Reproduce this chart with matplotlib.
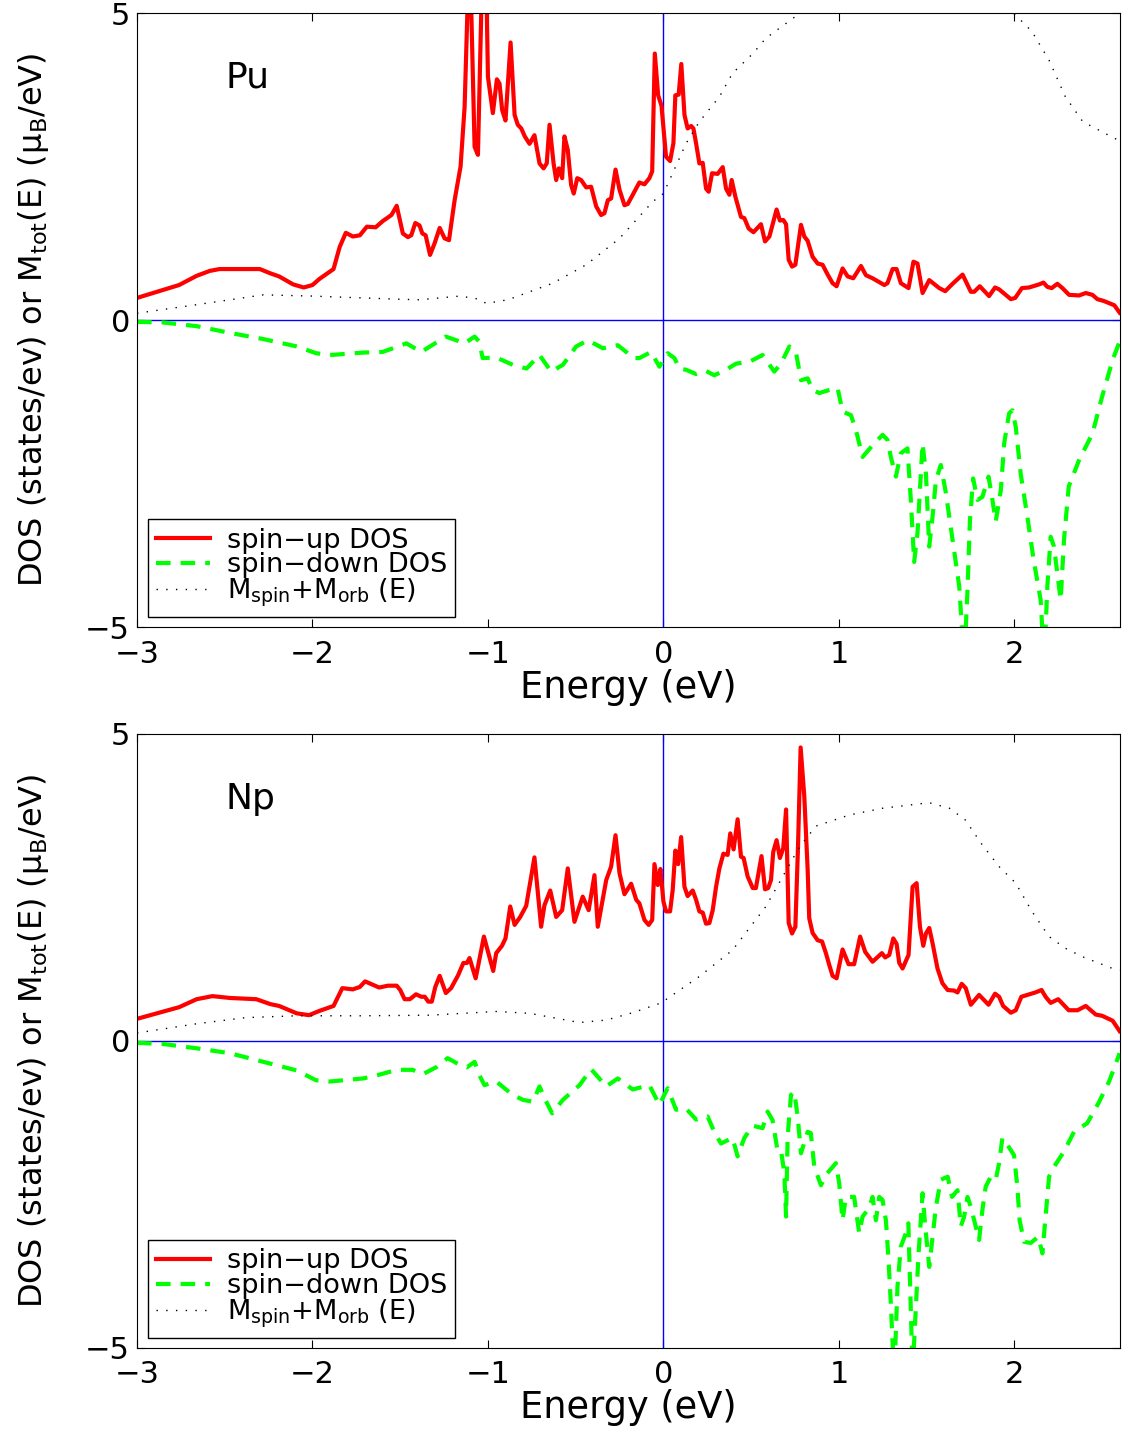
import numpy as np
import matplotlib
matplotlib.use("Agg")
import matplotlib.pyplot as plt

plt.rcParams['font.family'] = ['DejaVu Sans']
plt.rcParams['mathtext.fontset'] = 'dejavusans'
plt.rcParams['mathtext.default'] = 'regular'

# (energy eV, value)
pu_up = np.array([
    [-3.0, 0.36], [-2.76, 0.57], [-2.66, 0.72], [-2.585, 0.80], [-2.53, 0.83], [-2.30, 0.83],
    [-2.24, 0.76], [-2.19, 0.71], [-2.11, 0.58], [-2.05, 0.53], [-2.0, 0.57], [-1.96, 0.67],
    [-1.88, 0.83], [-1.845, 1.19], [-1.81, 1.42], [-1.77, 1.36], [-1.73, 1.38], [-1.69, 1.52],
    [-1.64, 1.51], [-1.60, 1.61], [-1.55, 1.71], [-1.52, 1.86], [-1.485, 1.41], [-1.456, 1.35],
    [-1.437, 1.38], [-1.414, 1.58], [-1.39, 1.54], [-1.374, 1.41], [-1.355, 1.38], [-1.33, 1.06],
    [-1.304, 1.25], [-1.275, 1.50], [-1.247, 1.33], [-1.222, 1.30], [-1.19, 1.95], [-1.156, 2.50],
    [-1.133, 3.47], [-1.105, 6.2], [-1.076, 2.82], [-1.057, 2.69], [-1.03, 6.0], [-1.01, 5.6],
    [-1.0, 3.96], [-0.972, 3.37], [-0.949, 3.92], [-0.934, 3.85], [-0.919, 3.42], [-0.90, 3.25],
    [-0.871, 4.52], [-0.848, 3.34], [-0.83, 3.18], [-0.81, 3.12], [-0.79, 2.99], [-0.763, 2.87],
    [-0.735, 3.01], [-0.706, 2.55], [-0.683, 2.47], [-0.665, 2.55], [-0.649, 3.18], [-0.626, 2.55],
    [-0.611, 2.28], [-0.596, 2.47], [-0.577, 2.31], [-0.564, 2.99], [-0.545, 2.77], [-0.526, 2.20],
    [-0.511, 2.06], [-0.491, 2.31], [-0.469, 2.28], [-0.44, 2.16], [-0.412, 2.17], [-0.383, 1.85],
    [-0.355, 1.71], [-0.336, 1.74], [-0.317, 1.95], [-0.298, 1.98], [-0.273, 2.45], [-0.25, 2.12],
    [-0.222, 1.87], [-0.203, 1.89], [-0.175, 2.04], [-0.137, 2.24], [-0.108, 2.21], [-0.08, 2.31],
    [-0.064, 2.42], [-0.049, 4.34], [-0.03, 3.66], [-0.011, 3.49], [0.015, 2.66], [0.038, 2.59],
    [0.057, 2.88], [0.068, 3.66], [0.087, 3.67], [0.102, 4.17], [0.12, 3.34], [0.138, 3.12],
    [0.158, 3.16], [0.171, 3.12], [0.186, 2.88], [0.205, 2.55], [0.224, 2.56], [0.243, 2.14],
    [0.258, 2.09], [0.277, 2.39], [0.309, 2.38], [0.338, 2.49], [0.357, 2.14], [0.376, 2.04],
    [0.389, 2.28], [0.41, 2.01], [0.442, 1.68], [0.461, 1.66], [0.486, 1.49], [0.513, 1.43],
    [0.556, 1.56], [0.579, 1.28], [0.604, 1.36], [0.645, 1.80], [0.664, 1.62], [0.683, 1.63],
    [0.699, 1.56], [0.714, 0.98], [0.733, 0.87], [0.752, 0.90], [0.784, 1.55], [0.803, 1.36],
    [0.822, 1.29], [0.85, 1.03], [0.879, 0.92], [0.907, 0.90], [0.936, 0.74], [0.964, 0.60],
    [0.987, 0.55], [1.021, 0.84], [1.05, 0.71], [1.082, 0.68], [1.126, 0.88], [1.154, 0.73],
    [1.192, 0.68], [1.259, 0.57], [1.277, 0.60], [1.306, 0.83], [1.329, 0.83], [1.353, 0.60],
    [1.397, 0.52], [1.425, 0.95], [1.448, 0.92], [1.477, 0.44], [1.515, 0.65], [1.572, 0.52],
    [1.606, 0.47], [1.648, 0.59], [1.705, 0.74], [1.752, 0.46], [1.771, 0.46], [1.803, 0.55],
    [1.856, 0.39], [1.89, 0.53], [1.913, 0.50], [1.98, 0.34], [2.005, 0.36], [2.043, 0.52],
    [2.084, 0.53], [2.141, 0.58], [2.166, 0.61], [2.188, 0.54], [2.213, 0.52], [2.245, 0.59],
    [2.274, 0.52], [2.312, 0.41], [2.369, 0.40], [2.407, 0.44], [2.445, 0.41], [2.473, 0.34],
    [2.51, 0.31], [2.57, 0.24], [2.60, 0.12],
])

pu_down = np.array([
    [-3.0, -0.03], [-2.85, -0.04], [-2.66, -0.10], [-2.47, -0.21], [-2.28, -0.31], [-2.09, -0.43],
    [-1.98, -0.54], [-1.90, -0.57], [-1.71, -0.53], [-1.60, -0.52], [-1.465, -0.38], [-1.38, -0.52],
    [-1.33, -0.43], [-1.24, -0.27], [-1.16, -0.35], [-1.133, -0.38], [-1.076, -0.27], [-1.05, -0.35],
    [-1.03, -0.62], [-0.953, -0.61], [-0.858, -0.73], [-0.78, -0.79], [-0.706, -0.57], [-0.64, -0.84],
    [-0.573, -0.73], [-0.497, -0.43], [-0.43, -0.33], [-0.345, -0.46], [-0.26, -0.41], [-0.212, -0.52],
    [-0.175, -0.62], [-0.137, -0.62], [-0.07, -0.52], [-0.023, -0.76], [0.024, -0.54], [0.063, -0.62],
    [0.091, -0.79], [0.129, -0.81], [0.186, -0.88], [0.243, -0.83], [0.29, -0.90], [0.357, -0.81],
    [0.414, -0.71], [0.49, -0.68], [0.565, -0.57], [0.632, -0.84], [0.67, -0.71], [0.718, -0.43],
    [0.755, -0.52], [0.784, -0.98], [0.822, -0.95], [0.85, -1.14], [0.888, -1.19], [0.945, -1.14],
    [0.993, -1.11], [1.021, -1.49], [1.069, -1.55], [1.097, -1.79], [1.135, -2.23], [1.192, -2.04],
    [1.249, -1.87], [1.277, -1.95], [1.296, -2.23], [1.325, -2.55], [1.353, -2.17], [1.391, -2.09],
    [1.41, -2.93], [1.429, -3.94], [1.448, -3.47], [1.477, -2.01], [1.496, -2.50], [1.515, -3.69],
    [1.534, -3.20], [1.553, -2.61], [1.581, -2.36], [1.61, -2.82], [1.648, -3.58], [1.686, -4.34],
    [1.714, -5.6], [1.733, -4.40], [1.747, -3.26], [1.765, -2.58], [1.79, -2.93], [1.818, -2.88],
    [1.853, -2.55], [1.875, -2.93], [1.894, -3.28], [1.923, -2.77], [1.942, -2.01], [1.97, -1.52],
    [1.989, -1.47], [2.008, -1.74], [2.036, -2.50], [2.074, -3.20], [2.11, -3.91], [2.15, -4.56],
    [2.17, -5.6], [2.188, -4.34], [2.207, -3.53], [2.226, -3.69], [2.245, -4.13], [2.264, -4.56],
    [2.283, -3.58], [2.31, -2.71], [2.369, -2.28], [2.445, -1.85], [2.50, -1.25], [2.56, -0.65],
    [2.60, -0.35],
])

pu_mag = np.array([
    [-3.0, 0.11], [-2.66, 0.25], [-2.28, 0.41], [-2.0, 0.39], [-1.52, 0.34], [-1.39, 0.33],
    [-1.16, 0.39], [-1.05, 0.34], [-1.01, 0.27], [-0.886, 0.33], [-0.63, 0.60], [-0.44, 0.90],
    [-0.25, 1.33], [-0.06, 1.93], [0.0, 2.06], [0.13, 2.88], [0.205, 3.23], [0.32, 3.64],
    [0.394, 4.02], [0.51, 4.34], [0.584, 4.59], [0.765, 4.97], [0.9, 5.2], [1.1, 5.55],
    [1.4, 5.7], [1.7, 5.5], [1.9, 5.15], [2.006, 4.97], [2.10, 4.70], [2.198, 4.23],
    [2.29, 3.64], [2.39, 3.23], [2.57, 2.96], [2.60, 2.92],
])

np_up = np.array([
    [-3.0, 0.36], [-2.76, 0.55], [-2.66, 0.68], [-2.57, 0.73], [-2.47, 0.70], [-2.32, 0.68],
    [-2.24, 0.60], [-2.19, 0.57], [-2.09, 0.45], [-2.02, 0.42], [-1.96, 0.49], [-1.88, 0.57],
    [-1.83, 0.86], [-1.77, 0.84], [-1.73, 0.88], [-1.70, 0.97], [-1.66, 0.92], [-1.62, 0.87],
    [-1.57, 0.90], [-1.52, 0.90], [-1.50, 0.83], [-1.475, 0.68], [-1.445, 0.68], [-1.41, 0.76],
    [-1.38, 0.72], [-1.36, 0.72], [-1.34, 0.64], [-1.32, 0.64], [-1.30, 0.88], [-1.275, 1.06],
    [-1.24, 0.78], [-1.21, 0.86], [-1.17, 1.07], [-1.14, 1.27], [-1.12, 1.27], [-1.105, 1.35],
    [-1.07, 1.02], [-1.023, 1.70], [-0.97, 1.14], [-0.953, 1.43], [-0.92, 1.55], [-0.90, 1.67],
    [-0.873, 2.19], [-0.848, 1.89], [-0.816, 2.02], [-0.782, 2.20], [-0.735, 2.99], [-0.697, 1.86],
    [-0.678, 2.21], [-0.645, 2.45], [-0.611, 2.02], [-0.577, 2.13], [-0.545, 2.81], [-0.507, 1.94],
    [-0.46, 2.35], [-0.426, 2.13], [-0.393, 2.70], [-0.374, 1.86], [-0.326, 2.62], [-0.298, 2.84],
    [-0.273, 3.35], [-0.25, 2.73], [-0.222, 2.39], [-0.184, 2.56], [-0.155, 2.30], [-0.137, 2.24],
    [-0.108, 1.97], [-0.084, 1.89], [-0.064, 1.97], [-0.051, 2.88], [-0.032, 2.54], [-0.017, 2.80],
    [0.0, 2.27], [0.015, 2.11], [0.038, 2.11], [0.053, 2.46], [0.068, 3.10], [0.084, 2.88],
    [0.101, 3.32], [0.12, 2.51], [0.138, 2.36], [0.167, 2.45], [0.186, 2.30], [0.205, 2.11],
    [0.224, 2.09], [0.243, 1.91], [0.262, 1.92], [0.281, 2.13], [0.30, 2.51], [0.319, 2.81],
    [0.342, 3.05], [0.366, 3.03], [0.381, 3.38], [0.40, 3.12], [0.423, 3.61], [0.442, 3.00],
    [0.457, 2.98], [0.48, 2.68], [0.509, 2.49], [0.527, 2.49], [0.559, 3.01], [0.579, 2.47],
    [0.597, 2.49], [0.613, 2.62], [0.626, 3.08], [0.645, 3.27], [0.664, 2.98], [0.683, 3.14],
    [0.699, 3.77], [0.714, 1.92], [0.733, 1.75], [0.752, 1.86], [0.767, 3.16], [0.782, 4.78],
    [0.803, 3.98], [0.822, 2.79], [0.831, 2.00], [0.85, 1.76], [0.879, 1.64], [0.904, 1.62],
    [0.926, 1.43], [0.945, 1.24], [0.964, 1.06], [0.987, 1.02], [1.021, 1.49], [1.055, 1.25],
    [1.087, 1.25], [1.121, 1.70], [1.15, 1.45], [1.192, 1.29], [1.245, 1.43], [1.264, 1.36],
    [1.287, 1.40], [1.31, 1.67], [1.329, 1.58], [1.344, 1.27], [1.363, 1.18], [1.397, 1.40],
    [1.42, 2.51], [1.443, 2.57], [1.462, 1.86], [1.481, 1.55], [1.496, 1.75], [1.515, 1.84],
    [1.534, 1.59], [1.562, 1.18], [1.59, 0.94], [1.62, 0.83], [1.657, 0.82], [1.676, 0.79],
    [1.70, 0.93], [1.723, 0.86], [1.752, 0.59], [1.799, 0.75], [1.853, 0.59], [1.89, 0.77],
    [1.913, 0.72], [1.936, 0.57], [1.98, 0.46], [2.008, 0.50], [2.04, 0.72], [2.074, 0.75],
    [2.12, 0.79], [2.155, 0.83], [2.178, 0.72], [2.207, 0.62], [2.25, 0.68], [2.31, 0.50],
    [2.36, 0.50], [2.407, 0.57], [2.464, 0.43], [2.50, 0.41], [2.56, 0.33], [2.60, 0.16],
])

np_down = np.array([
    [-3.0, -0.03], [-2.85, -0.05], [-2.66, -0.12], [-2.47, -0.20], [-2.28, -0.34], [-2.09, -0.48],
    [-1.98, -0.64], [-1.90, -0.66], [-1.71, -0.61], [-1.62, -0.55], [-1.52, -0.47], [-1.43, -0.47],
    [-1.37, -0.54], [-1.29, -0.42], [-1.23, -0.28], [-1.16, -0.39], [-1.12, -0.43], [-1.076, -0.34],
    [-1.05, -0.55], [-1.02, -0.72], [-0.953, -0.66], [-0.858, -0.88], [-0.80, -0.96], [-0.744, -0.99],
    [-0.706, -0.74], [-0.678, -0.93], [-0.634, -1.18], [-0.573, -0.96], [-0.478, -0.72], [-0.412, -0.46],
    [-0.326, -0.74], [-0.26, -0.61], [-0.175, -0.79], [-0.08, -0.72], [-0.023, -1.04], [0.024, -0.77],
    [0.072, -1.12], [0.129, -1.10], [0.186, -1.28], [0.252, -1.23], [0.29, -1.48], [0.328, -1.67],
    [0.394, -1.58], [0.423, -1.88], [0.461, -1.58], [0.509, -1.38], [0.565, -1.42], [0.594, -1.15],
    [0.622, -1.29], [0.65, -1.78], [0.67, -1.78], [0.689, -2.15], [0.699, -2.86], [0.708, -1.56],
    [0.727, -0.88], [0.746, -0.83], [0.765, -1.23], [0.784, -1.83], [0.822, -1.48], [0.84, -1.50],
    [0.86, -2.05], [0.898, -2.35], [0.926, -2.18], [0.983, -1.99], [1.002, -2.32], [1.021, -2.92],
    [1.04, -2.54], [1.087, -2.54], [1.116, -3.13], [1.135, -2.86], [1.173, -2.72], [1.192, -2.54],
    [1.211, -2.92], [1.23, -2.54], [1.249, -2.59], [1.268, -2.92], [1.283, -3.57], [1.296, -4.27],
    [1.315, -5.5], [1.334, -4.0], [1.353, -3.35], [1.382, -3.13], [1.396, -2.97], [1.404, -3.78],
    [1.42, -5.4], [1.44, -4.27], [1.454, -3.46], [1.467, -2.92], [1.477, -2.48], [1.492, -3.02],
    [1.515, -3.68], [1.534, -3.19], [1.553, -2.70], [1.581, -2.26], [1.62, -2.21], [1.645, -2.54],
    [1.676, -2.43], [1.695, -3.02], [1.714, -2.86], [1.733, -2.54], [1.752, -2.70], [1.771, -2.92],
    [1.799, -3.24], [1.818, -2.75], [1.837, -2.37], [1.866, -2.21], [1.894, -2.26], [1.913, -1.99],
    [1.932, -1.58], [1.96, -1.69], [1.998, -1.86], [2.017, -2.37], [2.03, -2.92], [2.055, -3.27],
    [2.093, -3.29], [2.136, -3.19], [2.16, -3.46], [2.178, -2.86], [2.198, -2.21], [2.226, -2.05],
    [2.283, -1.80], [2.34, -1.48], [2.415, -1.34], [2.48, -1.01], [2.54, -0.66], [2.60, -0.20],
])

np_mag = np.array([
    [-3.0, 0.13], [-2.66, 0.28], [-2.38, 0.38], [-2.09, 0.41], [-1.71, 0.41], [-1.33, 0.42],
    [-0.953, 0.48], [-0.763, 0.45], [-0.573, 0.35], [-0.478, 0.30], [-0.326, 0.34], [-0.175, 0.46],
    [-0.013, 0.62], [0.205, 1.05], [0.394, 1.48], [0.584, 2.19], [0.775, 3.16], [0.87, 3.50],
    [1.06, 3.68], [1.25, 3.79], [1.515, 3.88], [1.63, 3.79], [1.72, 3.60], [1.818, 3.19],
    [1.913, 2.84], [2.008, 2.57], [2.10, 2.11], [2.198, 1.70], [2.29, 1.51], [2.39, 1.37],
    [2.56, 1.18], [2.60, 1.15],
])

panels = [("Pu", pu_up, pu_down, pu_mag), ("Np", np_up, np_down, np_mag)]

fig = plt.figure(figsize=(11.23, 14.29), dpi=100)
boxes = [[0.122, 0.5612, 0.875, 0.4297], [0.122, 0.0567, 0.875, 0.4297]]

for (name, up, down, mag), box in zip(panels, boxes):
    ax = fig.add_axes(box)
    ax.axhline(0, color='blue', lw=1)
    ax.axvline(0, color='blue', lw=1)
    ax.plot(up[:, 0], up[:, 1], color='red', lw=3, label='spin\u2212up DOS')
    ax.plot(down[:, 0], down[:, 1], color='#00ff00', lw=3, dashes=(3.5, 2.4),
            label='spin\u2212down DOS')
    ax.plot(mag[:, 0], mag[:, 1], color='black', lw=1, dashes=(1, 6),
            label='M$_{spin}$+M$_{orb}$ (E)')
    ax.set_xlim(-3, 2.6)
    ax.set_ylim(-5, 5)
    ax.set_xticks([-3, -2, -1, 0, 1, 2])
    ax.set_yticks([-5, 0, 5])
    ax.tick_params(direction='in', top=True, right=True, length=6, labelsize=22)
    ax.tick_params(axis='x', pad=9)
    ax.tick_params(axis='y', pad=5)
    ax.set_xlabel('Energy (eV)', fontsize=26.5, labelpad=0)
    ax.set_ylabel('DOS (states/ev) or M$_{tot}$(E) ($\\mu_B$/eV)', fontsize=23)
    ax.yaxis.set_label_coords(-0.088, 0.5)
    ax.text(0.09, 0.878, name, transform=ax.transAxes, fontsize=26, ha='left', va='baseline')
    leg = ax.legend(loc='lower left', bbox_to_anchor=(0.011, 0.016), borderaxespad=0,
                    fontsize=19.5, fancybox=False, framealpha=1, edgecolor='black',
                    handlelength=2.0, handletextpad=0.62, labelspacing=-0.05, borderpad=0.3)
    leg.get_frame().set_linewidth(1)

fig.savefig('out.png', dpi=100)
